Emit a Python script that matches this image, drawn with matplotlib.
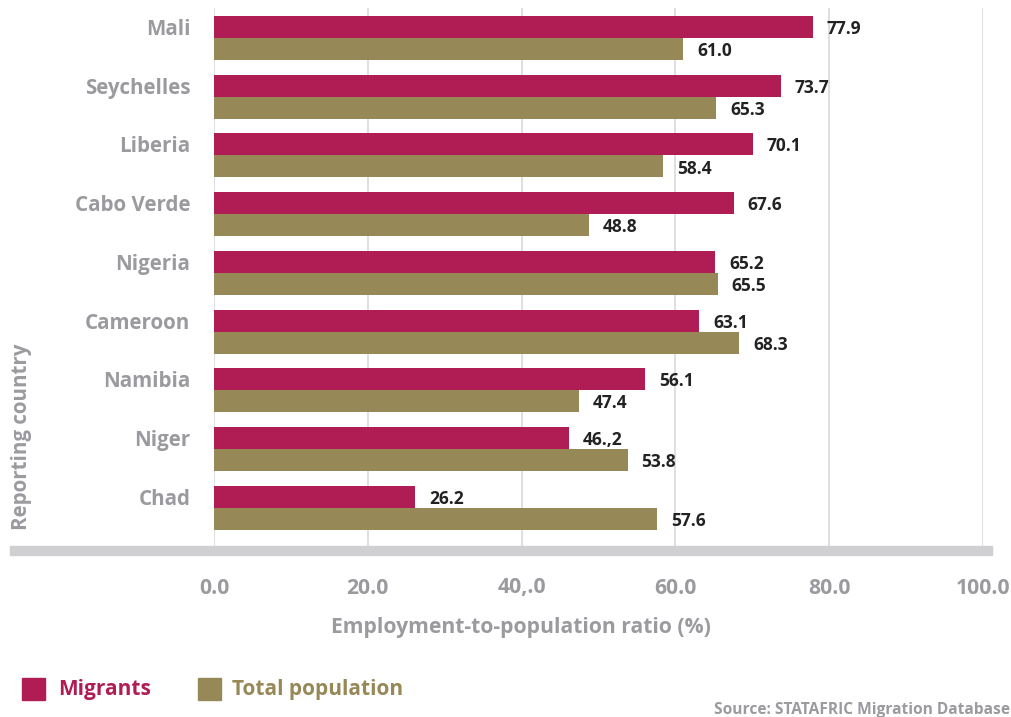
import matplotlib
matplotlib.use("Agg")
import matplotlib.pyplot as plt
from matplotlib.patches import Rectangle
import numpy as np

plt.rcParams['font.family'] = ['Open Sans', 'DejaVu Sans']

countries = ["Mali", "Seychelles", "Liberia", "Cabo Verde", "Nigeria",
             "Cameroon", "Namibia", "Niger", "Chad"]
migrants = [77.9, 73.7, 70.1, 67.6, 65.2, 63.1, 56.1, 46.2, 26.2]
total = [61.0, 65.3, 58.4, 48.8, 65.5, 68.3, 47.4, 53.8, 57.6]
migrant_labels = ["77.9", "73.7", "70.1", "67.6", "65.2", "63.1", "56.1", "46.,2", "26.2"]
total_labels = ["61.0", "65.3", "58.4", "48.8", "65.5", "68.3", "47.4", "53.8", "57.6"]
xticks = [0, 20, 40, 60, 80, 100]
xtick_labels = ["0.0", "20.0", "40,.0", "60.0", "80.0", "100.0"]

C_MIG = "#B01D55"
C_TOT = "#978857"
GREY = "#9a9a9f"
DARK = "#222222"

W, H = 1012, 717
fig = plt.figure(figsize=(W / 100, H / 100), dpi=100)

def fx(px):
    return px / W

def fy(py):
    return 1 - py / H

ax_left, ax_right = 214, 983
ax_top, ax_bot = 8, 546
ax = fig.add_axes([fx(ax_left), fy(ax_bot), fx(ax_right - ax_left), (ax_bot - ax_top) / H])

n = len(countries)
pos = np.arange(n)[::-1]  # Mali at top
bh = 0.375
ax.barh(pos + bh / 2, migrants, height=bh, color=C_MIG, zorder=3)
ax.barh(pos - bh / 2, total, height=bh, color=C_TOT, zorder=3)

for p, v, lab in zip(pos, migrants, migrant_labels):
    ax.annotate(lab, (v, p + bh / 2), xytext=(10, -1.5), textcoords='offset points',
                va='center', ha='left', fontsize=12.5, fontweight='bold', color=DARK)
for p, v, lab in zip(pos, total, total_labels):
    ax.annotate(lab, (v, p - bh / 2), xytext=(10, -1.5), textcoords='offset points',
                va='center', ha='left', fontsize=12.5, fontweight='bold', color=DARK)

ax.set_xlim(0, 100)
ax.set_ylim(-0.65, n - 1 + 0.51)
ax.set_xticks(xticks)
ax.set_xticklabels([])
# country labels aligned with the migrant bar of each group
ax.set_yticks(pos + bh / 2)
ax.set_yticklabels(countries, fontsize=14.8, fontweight='bold', color=GREY)
ax.tick_params(axis='y', length=0, pad=17)
ax.tick_params(axis='x', length=0)
ax.grid(axis='x', color='#d9d9db', linewidth=1.2, zorder=0)
for s in ax.spines.values():
    s.set_visible(False)

# x tick labels placed below the thick band
for t, lab in zip(xticks, xtick_labels):
    xpix = ax_left + (ax_right - ax_left) * t / 100
    fig.text(fx(xpix), fy(588), lab, ha='center', va='center',
             fontsize=15.2, fontweight='bold', color=GREY)

# thick grey axis band
fig.add_artist(Rectangle((fx(10), fy(555)), fx(992 - 10), 9 / H,
                         transform=fig.transFigure, color='#d0d0d3', zorder=1))

fig.text(fx(521), fy(628), "Employment-to-population ratio (%)", ha='center', va='center',
         fontsize=15.2, fontweight='bold', color=GREY)
fig.text(fx(22), fy(437), "Reporting country", ha='center', va='center', rotation=90,
         fontsize=14.8, fontweight='bold', color=GREY)

# legend
fig.add_artist(Rectangle((fx(22), fy(700)), fx(23), 22 / H, transform=fig.transFigure, color=C_MIG))
fig.text(fx(58), fy(690), "Migrants", ha='left', va='center', fontsize=15, fontweight='bold', color=C_MIG)
fig.add_artist(Rectangle((fx(198), fy(700)), fx(23), 22 / H, transform=fig.transFigure, color=C_TOT))
fig.text(fx(232), fy(690), "Total population", ha='left', va='center', fontsize=15, fontweight='bold', color=C_TOT)

fig.text(fx(1010), fy(710), "Source: STATAFRIC Migration Database", ha='right', va='center',
         fontsize=11.2, fontweight='bold', color=GREY)

fig.savefig("out.png", dpi=100)
